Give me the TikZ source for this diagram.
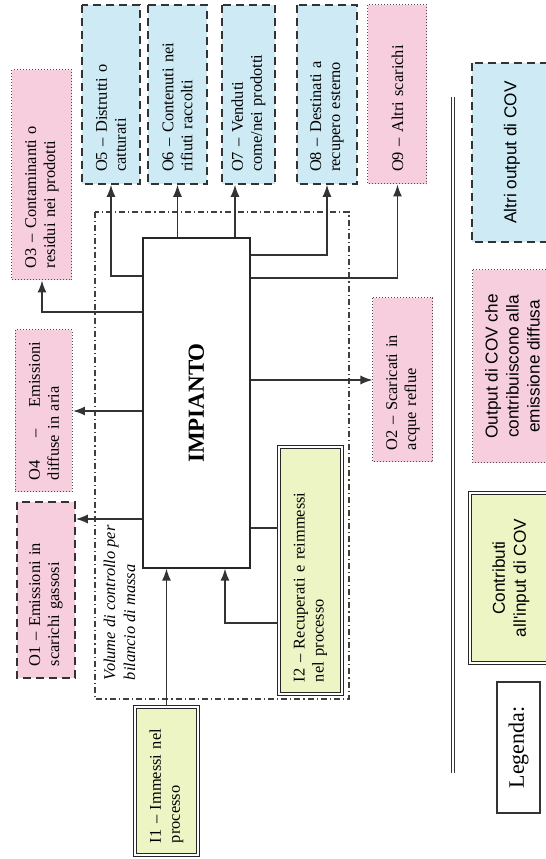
\documentclass[tikz,border=0pt]{standalone}
\usepackage{fontspec}
\setmainfont{Liberation Serif}
\newfontfamily\legendsans{Liberation Sans}
\usetikzlibrary{arrows.meta,calc}

\definecolor{crayonpink}{RGB}{247,206,222}
\definecolor{crayonblue}{RGB}{206,234,244}
\definecolor{crayongreen}{RGB}{238,245,196}

\tikzset{
  box/.style={inner xsep=6pt, inner ysep=2pt, align=left, font=\fontsize{8.2}{9.5}\selectfont},
  dashbox/.style={box, draw=black!80, line width=0.8pt, dash pattern=on 4pt off 2.5pt},
  dotbox/.style={box, draw=black!70, line width=0.5pt, densely dotted},
  dblbox/.style={box, draw=black!85, line width=0.5pt, double, double distance=1.2pt},
  keybox/.style={align=center, font=\legendsans\fontsize{8.6}{10.5}\selectfont},
  flow/.style={draw=black!80, line width=0.7pt, -{Latex[length=6pt,width=4.5pt]}},
  link/.style={draw=black!80, line width=0.7pt},
  ctrlvol/.style={draw=black!75, line width=0.6pt, dash pattern=on 3pt off 1.5pt on 0.6pt off 1.5pt},
}

\begin{document}
\begin{tikzpicture}[x=0.5pt, y=0.5pt, rotate=90, transform shape]
\useasboundingbox (0,0) rectangle (859,546);

\node[ctrlvol, minimum width=243.5pt, minimum height=127pt] (cv) at (403.5,324) {};
\node[anchor=north west, inner sep=0pt, align=left, font=\itshape\fontsize{8.2}{10}\selectfont] (cvlabel)
  at ($(cv.north west)+(19,-9)$) {Volume di controllo per\\bilancio di massa};

\node[draw=black!85, line width=0.6pt, fill=white, minimum width=165pt, minimum height=53.5pt,
  font=\bfseries\fontsize{11.5}{13}\selectfont] (imp) at (456,349.5) {IMPIANTO};

\node[dotbox, fill=crayonpink, text width=93pt, minimum height=30pt] (o3) at (684,504) {O3 – Contaminanti o\\residui nei prodotti};
\node[dotbox, fill=crayonpink, text width=69pt, minimum height=28.5pt] (o4) at (448,502) {O4\hfill–\hfill Emissioni\\diffuse in aria};
\node[dashbox, fill=crayonpink, text width=76pt, minimum height=29pt] (o1) at (269,500) {O1 – Emissioni in\\scarichi gassosi};

\node[dashbox, fill=crayonblue, text width=77.5pt, minimum height=29pt] (o5) at (764.5,435) {O5 – Distrutti o\\catturati};
\node[dashbox, fill=crayonblue, text width=77.5pt, minimum height=29.5pt] (o6) at (764.5,368.5) {O6 – Contenuti nei\\rifiuti raccolti};
\node[dashbox, fill=crayonblue, text width=77.5pt, minimum height=26.5pt] (o7) at (764.5,297.5) {O7 – Venduti\\come/nei prodotti};
\node[dashbox, fill=crayonblue, text width=77.5pt, minimum height=30pt] (o8) at (764.5,219) {O8 – Destinati a\\recupero esterno};
\node[dotbox, fill=crayonpink, text width=77.5pt, minimum height=29.5pt] (o9) at (764.5,148.5) {O9 – Altri scarichi};

\node[dotbox, fill=crayonpink, text width=70pt, minimum height=30pt] (o2) at (479,143) {O2 – Scaricati in\\acque reflue};

\node[dblbox, fill=crayongreen, text width=62pt, minimum height=31.5pt] (i1) at (78,379.5) {I1 – Immessi nel\\processo};
\node[dblbox, fill=crayongreen, text width=111.5pt, minimum height=31.5pt] (i2) at (288.5,235.5) {I2 – Recuperati e reimmessi\\nel processo};

\draw[flow] (imp.north -| 547,0) |- (o3.west);
\draw[flow] (imp.north -| o4) -- (o4.south);
\draw[flow] (imp.north -| 340,0) -- (o1.south -| 340,0);
\draw[flow] (imp.north -| 583,0) |- (o5.west);
\draw[flow] (imp.east |- o6) -- (o6.west);
\draw[flow] (imp.east |- 0,311) -- (o7.west |- 0,311);
\draw[flow] (imp.south -| 604,0) |- (o8.west);
\draw[flow] (imp.south -| 581,0) |- (o9.west);
\draw[flow] (imp.south -| o2) -- (o2.north);
\draw[link] (imp.south -| 331,0) -- (i2.north -| 331,0);
\draw[flow] (i2.north -| 236,0) |- (imp.west |- 0,321);
\draw[flow] (i1.east) -- (imp.west |- i1);

\draw[draw=black!80, line width=0.5pt, double, double distance=1.2pt] (86,93) -- (762,93);

\node[draw=black!80, line width=0.6pt, minimum width=65.5pt, minimum height=21.5pt,
  font=\fontsize{11}{13}\selectfont] (legend) at (111.5,27.5) {Legenda:};
\node[dblbox, keybox, fill=crayongreen, minimum width=85pt, minimum height=41pt] (keyin) at (281,35) {Contributi\\all'input di COV};
\node[dotbox, keybox, fill=crayonpink, minimum width=96.5pt, minimum height=39.5pt] (keydiff) at (492.5,33.5) {Output di COV che\\contribuiscono alla\\emissione diffusa};
\node[dashbox, keybox, fill=crayonblue, minimum width=89.5pt, minimum height=40pt] (keyother) at (706.5,34) {Altri output di COV};

\end{tikzpicture}
\end{document}
